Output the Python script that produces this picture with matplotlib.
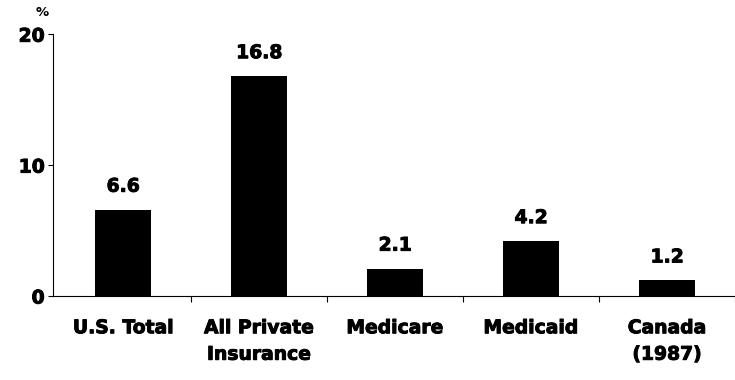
import matplotlib.pyplot as plt
import matplotlib.patheffects as pe
import numpy as np

categories = ["U.S. Total", "All Private\nInsurance", "Medicare", "Medicaid", "Canada\n(1987)"]
values = [6.6, 16.8, 2.1, 4.2, 1.2]
value_labels = ["6.6", "16.8", "2.1", "4.2", "1.2"]
y_ticks = [0, 10, 20]

# thicken the bold face a little so the lettering reads heavy
HEAVY = [pe.withStroke(linewidth=0.7, foreground="black")]
SIZE = 13.5


def main() -> None:
    fig = plt.figure(figsize=(7.35, 3.8), dpi=100)
    ax = fig.add_axes([0.072, 0.221, 0.928, 0.689])

    x = np.arange(len(categories))
    ax.bar(x, values, width=0.41, color="black")

    for xi, v, label in zip(x, values, value_labels):
        ax.annotate(label, (xi, v), xytext=(0, 10), textcoords="offset points",
                    ha="center", va="bottom", fontsize=SIZE, fontweight="bold",
                    path_effects=HEAVY)

    ax.set_xlim(-0.516, 4.44)
    ax.set_ylim(0, 20)
    ax.set_yticks(y_ticks)
    ax.set_yticklabels([str(t) for t in y_ticks], fontsize=SIZE, fontweight="bold")
    for t in ax.get_yticklabels():
        t.set_path_effects(HEAVY)

    # category names sit under the bars, ticks mark the boundaries between them
    ax.set_xticks(x + 0.5, minor=False)
    ax.set_xticklabels([])
    ax.set_xticks(x, minor=True)
    ax.set_xticklabels(categories, minor=True, fontsize=SIZE, fontweight="bold",
                       linespacing=1.5, va="top")
    for t in ax.get_xticklabels(minor=True):
        t.set_path_effects(HEAVY)
    ax.tick_params(axis="x", which="minor", length=0, pad=16)
    ax.tick_params(axis="x", which="major", length=4, width=0.8)
    ax.tick_params(axis="y", length=3.5, width=0.8, pad=2.5)

    for side in ("top", "right"):
        ax.spines[side].set_visible(False)
    ax.spines["left"].set_linewidth(0.8)
    ax.spines["bottom"].set_linewidth(0.8)

    fig.text(0.058, 0.95, "%", fontsize=9.5, fontweight="bold", ha="center", va="bottom")

    fig.savefig("out.png", dpi=100)


if __name__ == "__main__":
    main()
